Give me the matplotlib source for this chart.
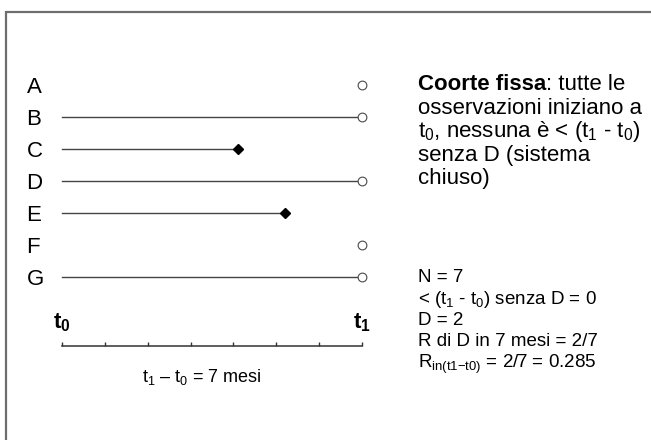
import matplotlib
matplotlib.use("Agg")
import matplotlib.pyplot as plt
from matplotlib.patches import Rectangle
from matplotlib.transforms import blended_transform_factory

plt.rcParams["font.family"] = ["Liberation Sans", "DejaVu Sans"]
plt.rcParams["mathtext.fontset"] = "custom"
plt.rcParams["mathtext.rm"] = "Liberation Sans"
plt.rcParams["mathtext.bf"] = "Liberation Sans:bold"
plt.rcParams["mathtext.default"] = "regular"

W, H = 651, 440

# data (months of follow-up, t0 = 0, t1 = 7)
subjects = ["A", "B", "C", "D", "E", "F", "G"]
end_time = [7, 7, 4.1, 7, 5.2, 7, 7]
has_line = [False, True, True, True, True, False, True]
outcome = ["censored", "censored", "D", "censored", "D", "censored", "censored"]
months = list(range(8))

heading_rest = [
    "osservazioni iniziano a",
    "t$_0$, nessuna è < (t$_1$ - t$_0$)",
    "senza D (sistema",
    "chiuso)",
]
summary_lines = [
    "N = 7",
    "< (t$_1$ - t$_0$) senza D = 0",
    "D = 2",
    "R di D in 7 mesi = 2/7",
    "R$_{in(t1{-}t0)}$ = 2/7 = 0.285",
]


def fx(x):
    return x / W


def fy(y):
    return 1 - y / H


fig = plt.figure(figsize=(W / 100, H / 100), dpi=100)

# gray frame (left and top edges visible)
fig.add_artist(Rectangle((fx(6), -0.5), 3, fy(12) + 0.5, transform=fig.transFigure,
                         fill=False, edgecolor="#6e6e6e", linewidth=1.6, clip_on=False))

# subject lines
ax = fig.add_axes([fx(62), fy(290), 300 / W, 220 / H])
ax.set_xlim(0, 7)
ax.set_ylim(6.406, -0.469)
for s in ax.spines.values():
    s.set_visible(False)
ax.patch.set_visible(False)
ax.set_xticks([])
ax.set_yticks(range(len(subjects)))
ax.set_yticklabels(subjects, fontsize=16)
ax.tick_params(axis="y", length=0, pad=25.5)
for lab in ax.get_yticklabels():
    lab.set_horizontalalignment("left")

for i, (t, ln, oc) in enumerate(zip(end_time, has_line, outcome)):
    if ln:
        ax.plot([0, t], [i, i], color="#444444", linewidth=1.0, clip_on=False, zorder=2)
    if oc == "D":
        ax.plot(t, i, marker="D", markersize=5.5, color="black", clip_on=False, zorder=3)
    else:
        ax.plot(t, i, marker="o", markersize=6.3, markerfacecolor="white",
                markeredgecolor="#4a4a4a", markeredgewidth=0.8, clip_on=False, zorder=3)

# time axis t0 -> t1
ax2 = fig.add_axes([fx(62), fy(346), 300 / W, 40 / H])
ax2.set_xlim(0, 7)
ax2.patch.set_visible(False)
for k in ["left", "right", "top"]:
    ax2.spines[k].set_visible(False)
ax2.spines["bottom"].set_color("#333333")
ax2.spines["bottom"].set_linewidth(1.1)
ax2.set_yticks([])
ax2.set_xticks(months)
ax2.tick_params(axis="x", direction="in", length=3, width=1, color="#333333",
                labelbottom=False)
tr = blended_transform_factory(ax2.transData, ax2.transAxes)
ax2.text(months[0], 0.45, r"$\mathbf{t_0}$", transform=tr, ha="center", va="baseline",
         fontsize=16)
ax2.text(months[-1], 0.45, r"$\mathbf{t_1}$", transform=tr, ha="center", va="baseline",
         fontsize=16)
fig.text(fx(202), fy(382), "t$_1$ – t$_0$ = 7 mesi", ha="center", va="baseline",
         fontsize=13)

# right-hand text
t = fig.text(fx(418), fy(90), "Coorte fissa", fontsize=16, fontweight="bold",
             va="baseline")
ax.annotate(": tutte le", xy=(1, 0), xycoords=t, ha="left", va="bottom", fontsize=16)
for k, line in enumerate(heading_rest):
    fig.text(fx(418), fy(113.5 + 23.5 * k), line, fontsize=16, va="baseline")

for k, line in enumerate(summary_lines):
    fig.text(fx(418), fy(282 + 21.5 * k), line, fontsize=13.5, va="baseline")

fig.savefig("out.png", dpi=100)
